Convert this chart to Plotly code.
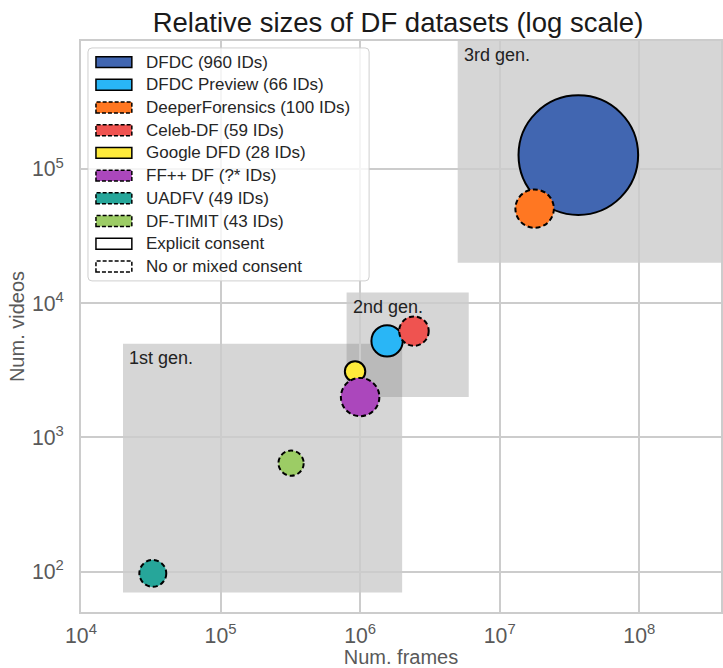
import numpy as np
import plotly.graph_objects as go

# ---------------- data ----------------
datasets = ["DFDC", "DFDC Preview", "DeeperForensics", "Celeb-DF",
            "Google DFD", "FF++ DF", "UADFV", "DF-TIMIT"]
id_labels = ["960", "66", "100", "59", "28", "?*", "49", "43"]
id_counts = [960, 66, 100, 59, 28, 100, 49, 43]          # FF++ size
num_frames = [3.66e7, 1.56e6, 1.78e7, 2.43e6, 9.2e5, 1.0e6, 3.27e4, 3.2e5]
num_videos = [1.27e5, 5.24e3, 5.07e4, 6.2e3, 3.1e3, 2.0e3, 97, 643]
explicit_consent = [True, True, False, False, True, False, False, False]

gen_labels = ["1st gen.", "2nd gen.", "3rd gen."]
gen_x0 = [2e4, 8e5, 5e6]
gen_x1 = [2e6, 6e6, 1e9]
gen_y0 = [70, 2e3, 2e4]
gen_y1 = [5e3, 1.2e4, 9e5]

# ---------------- style ----------------
colors = ["#4166b1", "#29b6f6", "#ff7722", "#ef5350",
          "#ffeb3b", "#ab47bc", "#26a69a", "#9ccc65"]
W, H = 723, 668
PL, PR, PT, PB = 81, 723, 41, 617        # plot area in pixels
X_RANGE = [4, 4 + (PR - PL) / 140.0]
Y_RANGE = [np.log10(50), np.log10(9e5)]
PPD_X = (PR - PL) / (X_RANGE[1] - X_RANGE[0])   # pixels per decade
PPD_Y = (PB - PT) / (Y_RANGE[1] - Y_RANGE[0])
SIZE_K = 1.93
FONT = "Liberation Sans, Arial, sans-serif"
DASH = "5px,3px"


def px(x):
    return (x - PL) / (PR - PL)


def py(y):
    return (PB - y) / (PB - PT)


fig = go.Figure()
shapes = []
annotations = []

# generation regions
for lab, x0, x1, y0, y1 in zip(gen_labels, gen_x0, gen_x1, gen_y0, gen_y1):
    shapes.append(dict(type="rect", xref="x", yref="y", x0=x0, x1=x1, y0=y0, y1=y1,
                       fillcolor="rgba(128,128,128,0.32)", line=dict(width=0),
                       layer="below"))
    annotations.append(dict(xref="x", yref="y", x=np.log10(x0), y=np.log10(y1),
                            text=lab, showarrow=False, xanchor="left", yanchor="top",
                            xshift=4, yshift=-2,
                            font=dict(family=FONT, size=18, color="#222222")))

# bubbles
for name, lab, n, fr, vi, cons, col in zip(datasets, id_labels, id_counts, num_frames,
                                            num_videos, explicit_consent, colors):
    r = SIZE_K * np.sqrt(n)
    fig.add_trace(go.Scatter(
        x=[fr], y=[vi], mode="markers", name=f"{name} ({lab} IDs)",
        showlegend=False,
        marker=dict(size=2 * r, color=col, opacity=1,
                    line=dict(color="black", width=2 if cons else 0)),
    ))
    if not cons:
        shapes.append(dict(type="circle", xref="x", yref="y",
                           x0=fr * 10 ** (-r / PPD_X), x1=fr * 10 ** (r / PPD_X),
                           y0=vi * 10 ** (-r / PPD_Y), y1=vi * 10 ** (r / PPD_Y),
                           line=dict(color="black", width=2, dash=DASH),
                           fillcolor="rgba(0,0,0,0)", layer="above"))

# manual legend (matplotlib-style patches)
LX0, LX1, LY0, LY1 = 88, 370, 48, 283
rad = 4
lx0, lx1, ly0, ly1 = px(LX0), px(LX1), py(LY0), py(LY1)
rx = rad / (PR - PL)
ry = rad / (PB - PT)
path = (f"M{lx0 + rx},{ly0} L{lx1 - rx},{ly0} Q{lx1},{ly0} {lx1},{ly0 - ry} "
        f"L{lx1},{ly1 + ry} Q{lx1},{ly1} {lx1 - rx},{ly1} "
        f"L{lx0 + rx},{ly1} Q{lx0},{ly1} {lx0},{ly1 + ry} "
        f"L{lx0},{ly0 - ry} Q{lx0},{ly0} {lx0 + rx},{ly0} Z")
shapes.append(dict(type="path", xref="paper", yref="paper", path=path,
                   fillcolor="rgba(255,255,255,0.8)",
                   line=dict(color="#cfcfcf", width=1), layer="above"))

leg_texts = [f"{n} ({l} IDs)" for n, l in zip(datasets, id_labels)] + \
            ["Explicit consent", "No or mixed consent"]
leg_fill = colors + ["white", "white"]
leg_cons = explicit_consent + [True, False]
row0, step = 62.3, 22.9
for i, (t, fc, cons) in enumerate(zip(leg_texts, leg_fill, leg_cons)):
    yc = row0 + i * step
    shapes.append(dict(type="rect", xref="paper", yref="paper",
                       x0=px(96), x1=px(132), y0=py(yc + 5.5), y1=py(yc - 5.5),
                       fillcolor=fc,
                       line=dict(color="black", width=1.5,
                                 dash="solid" if cons else "4px,2px"),
                       layer="above"))
    annotations.append(dict(xref="paper", yref="paper", x=px(144), y=py(yc),
                            text=t, showarrow=False, xanchor="left", yanchor="middle",
                            font=dict(family=FONT, size=17, color="#262626")))

axis_common = dict(type="log", dtick=1, exponentformat="power", showgrid=True,
                   gridcolor="#cccccc", gridwidth=1.5, zeroline=False, ticks="",
                   showline=True, linecolor="#cccccc", linewidth=1.5, mirror=True,
                   tickfont=dict(family=FONT, size=17, color="#595959"))

fig.update_layout(
    width=W, height=H,
    margin=dict(l=PL, r=W - PR, t=PT, b=H - PB, pad=0),
    paper_bgcolor="white", plot_bgcolor="white",
    title=dict(text="Relative sizes of DF datasets (log scale)",
               x=px(399), xref="paper", xanchor="center",
               y=1 - 22 / H, yref="container", yanchor="middle",
               font=dict(family=FONT, size=27.5, color="#1a1a1a")),
    xaxis=dict(range=X_RANGE, ticklabelstandoff=5,
               title=dict(text="Num. frames", standoff=6,
                          font=dict(family=FONT, size=20, color="#595959")),
               **axis_common),
    yaxis=dict(range=Y_RANGE, ticklabelstandoff=12,
               title=dict(text="Num. videos", standoff=2,
                          font=dict(family=FONT, size=20, color="#595959")),
               **axis_common),
    shapes=shapes,
    annotations=annotations,
    showlegend=False,
)

fig.write_html("out.html")
